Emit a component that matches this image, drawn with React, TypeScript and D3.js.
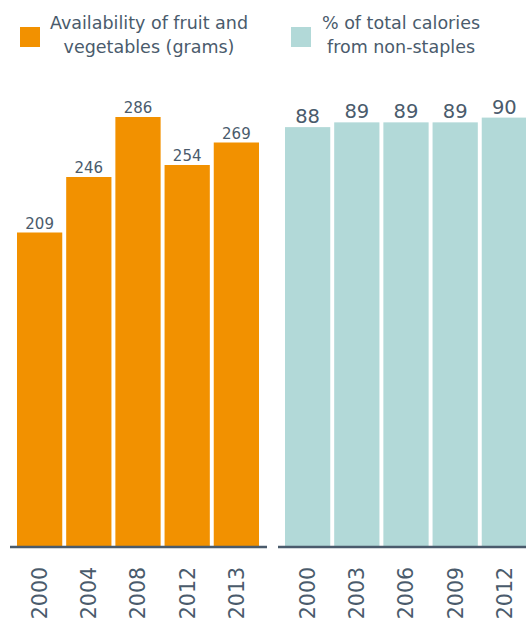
import React from "react";
import * as d3 from "d3";

const fruitYears = ["2000", "2004", "2008", "2012", "2013"];
const fruitValues = [209, 246, 286, 254, 269];
const calYears = ["2000", "2003", "2006", "2009", "2012"];
const calValues = [88, 89, 89, 89, 90];
const legendLeft = ["Availability of fruit and", "vegetables (grams)"];
const legendRight = ["% of total calories", "from non-staples"];

const ORANGE = "#F29100";
const TEAL = "#B2D9D8";
const TEXT = "#4A5B6C";
const FONT = "'DejaVu Sans', sans-serif";

const BASE = 546;

function Panel({ cats, vals, x0, x1, ax0, ax1, yMax, pxPerUnit, color, legend, lx, sqx, valSize }: any) {
  const x = d3.scaleBand<string>().domain(cats).range([x0, x1]).paddingInner(0.08).paddingOuter(0);
  const y = d3.scaleLinear().domain([0, yMax]).range([BASE, BASE - pxPerUnit * yMax]);
  return (
    <g>
      <rect x={sqx} y={27} width={20} height={20} fill={color} />
      {legend.map((t: string, i: number) => (
        <text key={t} x={lx} y={29 + i * 24} textAnchor="middle" fontFamily={FONT} fontSize={17.5} fill={TEXT}>
          {t}
        </text>
      ))}
      {vals.map((v: number, i: number) => (
        <g key={i}>
          <rect x={x(cats[i])} y={y(v)} width={x.bandwidth()} height={BASE - y(v)} fill={color} />
          <text x={(x(cats[i]) as number) + x.bandwidth() / 2} y={y(v) - 4} textAnchor="middle" fontFamily={FONT} fontSize={valSize} fill={TEXT}>
            {v}
          </text>
          <text
            transform={`translate(${(x(cats[i]) as number) + x.bandwidth() / 2},567) rotate(-90)`}
            textAnchor="end"
            dy="0.36em"
            fontFamily={FONT}
            fontSize={20.5}
            fill={TEXT}
          >
            {cats[i]}
          </text>
        </g>
      ))}
      <line x1={ax0} x2={ax1} y1={547} y2={547} stroke={TEXT} strokeWidth={2.5} />
    </g>
  );
}

export default function App() {
  return (
    <svg width={526} height={618} style={{ position: "absolute", left: 0, top: 0 }}>
      <rect width={526} height={618} fill="#fff" />
      <Panel cats={fruitYears} vals={fruitValues} x0={17} x1={259} ax0={10} ax1={267} yMax={300} pxPerUnit={1.5} color={ORANGE} legend={legendLeft} lx={149} sqx={20} valSize={15} />
      <Panel cats={calYears} vals={calValues} x0={285} x1={527} ax0={278} ax1={526} yMax={100} pxPerUnit={4.76} color={TEAL} legend={legendRight} lx={401} sqx={291} valSize={19.5} />
    </svg>
  );
}
